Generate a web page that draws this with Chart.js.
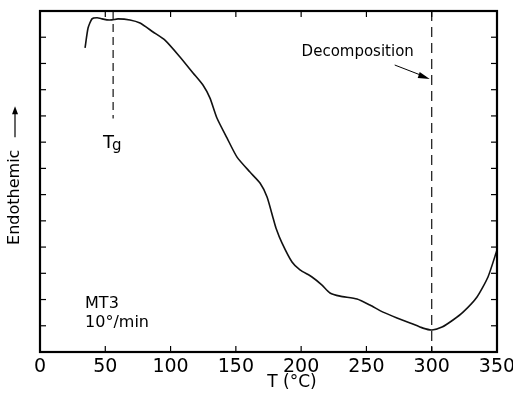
<!DOCTYPE html>
<html>
<head>
<meta charset="utf-8">
<script src="https://cdn.jsdelivr.net/npm/chart.js@4/dist/chart.umd.min.js"></script>
<style>
html,body{margin:0;padding:0;background:#fff;}
#c{display:block;}
</style>
</head>
<body>
<canvas id="c" width="513" height="394"></canvas>
<script>
// Data (temperature in °C, endotherm in relative units)
const tempC = [34.5,36.8,39.8,43.7,47.5,51.3,55.1,59.7,68.9,76.6,86.6,95.7,107.2,117.2,124.8,130.2,135.5,143.2,150.9,160.8,168.5,173.9,178.5,180.7,185.3,193.0,199.1,208.3,216.0,222.1,229.8,242.8,252.7,262.7,273.4,283.4,293.3,300.2,307.9,316.3,324.0,334.7,343.1,350];
const endo   = [11.59,12.35,12.70,12.74,12.70,12.66,12.66,12.70,12.66,12.54,12.20,11.89,11.25,10.64,10.18,9.68,8.92,8.16,7.43,6.86,6.44,5.91,5.11,4.73,4.16,3.43,3.13,2.86,2.55,2.25,2.13,2.02,1.79,1.52,1.30,1.11,0.91,0.84,0.95,1.22,1.52,2.10,2.86,3.89];
const xTicks = [0,50,100,150,200,250,300,350];
const tgTemp = 56, tgBottom = 8.9;
const decompTemp = 300;
const yMin = 0, yMax = 13;

const curve = tempC.map((t,i)=>({x:t,y:endo[i]}));

const FONT = '"DejaVu Sans", "Liberation Sans", sans-serif';

const framePlugin = {
  id:'frame',
  afterDraw(chart){
    const ctx = chart.ctx, a = chart.chartArea;
    const xs = chart.scales.x, ys = chart.scales.y;
    ctx.save();
    ctx.strokeStyle = '#000';
    ctx.lineWidth = 2.2;
    ctx.strokeRect(a.left, a.top, a.right-a.left, a.bottom-a.top);
    ctx.lineWidth = 1.2;
    // inward ticks
    xTicks.forEach(v=>{
      const px = xs.getPixelForValue(v);
      ctx.beginPath(); ctx.moveTo(px,a.bottom); ctx.lineTo(px,a.bottom-6); ctx.stroke();
      ctx.beginPath(); ctx.moveTo(px,a.top); ctx.lineTo(px,a.top+6); ctx.stroke();
    });
    for(let v=yMin+1; v<yMax; v++){
      const py = ys.getPixelForValue(v);
      ctx.beginPath(); ctx.moveTo(a.left,py); ctx.lineTo(a.left+6,py); ctx.stroke();
      ctx.beginPath(); ctx.moveTo(a.right,py); ctx.lineTo(a.right-6,py); ctx.stroke();
    }
    ctx.fillStyle = '#000';
    // Tg label
    const tgx = xs.getPixelForValue(tgTemp);
    const tgy = ys.getPixelForValue(tgBottom);
    ctx.font = '18px ' + FONT;
    ctx.textAlign = 'left'; ctx.textBaseline = 'alphabetic';
    ctx.fillText('T', tgx - 10, tgy + 29);
    ctx.font = '15px ' + FONT;
    ctx.fillText('g', tgx - 1, tgy + 31);
    // Decomposition label and arrow
    const dx = xs.getPixelForValue(decompTemp);
    ctx.font = '15px ' + FONT;
    ctx.textAlign = 'center'; ctx.textBaseline = 'middle';
    ctx.fillText('Decomposition', dx - 74, a.top + 41);
    ctx.lineWidth = 1;
    ctx.beginPath(); ctx.moveTo(dx-37, a.top+54); ctx.lineTo(dx-6, a.top+66); ctx.stroke();
    ctx.beginPath(); ctx.moveTo(dx-2, a.top+68); ctx.lineTo(dx-12, a.top+61); ctx.lineTo(dx-14, a.top+67); ctx.closePath(); ctx.fill();
    // sample annotation
    ctx.font = '16px ' + FONT;
    ctx.textAlign = 'left'; ctx.textBaseline = 'middle';
    const sx = xs.getPixelForValue(34.5);
    ctx.fillText('MT3', sx, ys.getPixelForValue(1.84));
    ctx.fillText('10°/min', sx, ys.getPixelForValue(1.1));
    // x title
    ctx.font = '17px ' + FONT;
    ctx.textAlign = 'center'; ctx.textBaseline = 'middle';
    ctx.fillText('T (°C)', xs.getPixelForValue(193), a.bottom + 31);
    // y title with arrow
    ctx.save();
    ctx.translate(15, ys.getPixelForValue(5.9));
    ctx.rotate(-Math.PI/2);
    ctx.font = '16px ' + FONT;
    ctx.textAlign = 'center'; ctx.textBaseline = 'middle';
    ctx.fillText('Endothemic', 0, 0);
    ctx.lineWidth = 1.2;
    ctx.beginPath(); ctx.moveTo(60, 0); ctx.lineTo(88, 0); ctx.stroke();
    ctx.beginPath(); ctx.moveTo(91, 0); ctx.lineTo(83, -3); ctx.lineTo(83, 3); ctx.closePath(); ctx.fill();
    ctx.restore();
    ctx.restore();
  }
};

new Chart(document.getElementById('c'), {
  type:'scatter',
  data:{
    datasets:[
      {data:curve, showLine:true, borderColor:'#111', borderWidth:1.6, pointRadius:0, tension:0.2, fill:false},
      {data:[{x:tgTemp,y:yMax},{x:tgTemp,y:tgBottom}], showLine:true, borderColor:'#111', borderWidth:1.2, borderDash:[8,5], pointRadius:0},
      {data:[{x:decompTemp,y:yMax},{x:decompTemp,y:yMin}], showLine:true, borderColor:'#111', borderWidth:1.2, borderDash:[10,6], pointRadius:0}
    ]
  },
  options:{
    responsive:false, animation:false,
    layout:{padding:{left:0,top:11,right:16,bottom:0}},
    plugins:{legend:{display:false}, tooltip:{enabled:false}},
    scales:{
      x:{type:'linear', min:0, max:350,
         afterBuildTicks(s){ s.ticks = xTicks.map(v=>({value:v})); },
         afterFit(s){ s.height = 42; s.paddingLeft = 0; s.paddingRight = 0; },
         grid:{display:false, drawTicks:false}, border:{display:false},
         ticks:{color:'#000', padding:4, font:{size:19, family:FONT}, maxRotation:0, autoSkip:false}},
      y:{type:'linear', min:yMin, max:yMax,
         afterFit(s){ s.width = 40; s.paddingTop = 0; s.paddingBottom = 0; },
         grid:{display:false, drawTicks:false}, border:{display:false},
         ticks:{display:false}}
    }
  },
  plugins:[framePlugin]
});
</script>
</body>
</html>
